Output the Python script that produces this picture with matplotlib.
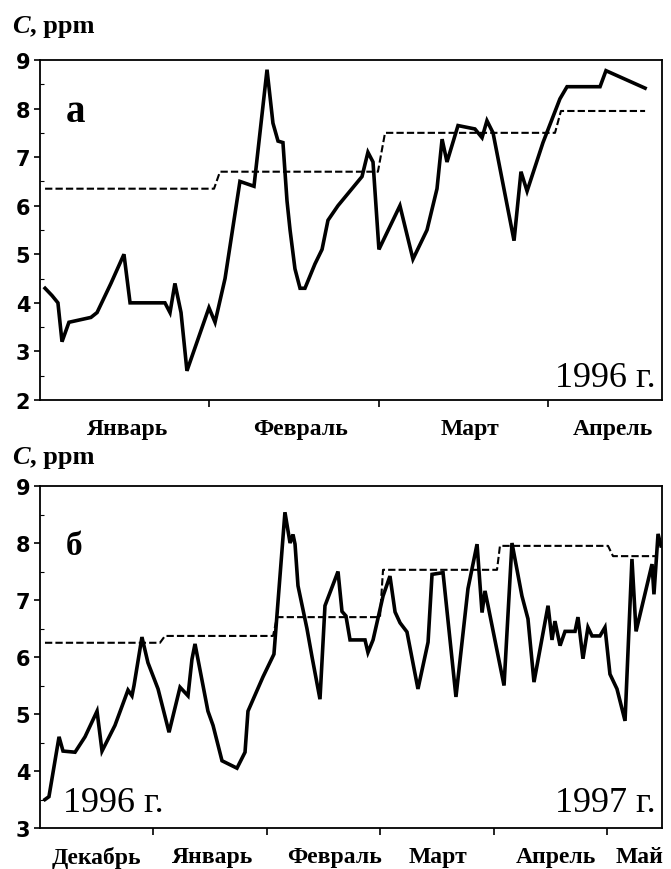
import matplotlib
matplotlib.use("Agg")
import matplotlib.pyplot as plt
from matplotlib.ticker import FixedLocator, MultipleLocator

SERIF = "Liberation Serif"
SANS = "DejaVu Sans"

# x is measured in months from the start of the first month shown
# panel a: 1996, January .. April
a_months = ["Январь", "Февраль", "Март", "Апрель"]
a_label_pos = [0.52, 1.54, 2.54, 3.385]
a_x = [0.030, 0.071, 0.106, 0.130, 0.171, 0.301, 0.337, 0.419, 0.496, 0.532,
       0.738, 0.768, 0.797, 0.833, 0.868, 0.998, 1.034, 1.093, 1.181, 1.264,
       1.341, 1.376, 1.406, 1.435, 1.459, 1.477, 1.506, 1.536, 1.565, 1.624,
       1.666, 1.701, 1.760, 1.902, 1.937, 1.967, 2.002, 2.126, 2.203, 2.286,
       2.345, 2.375, 2.404, 2.469, 2.569, 2.611, 2.640, 2.676, 2.800, 2.841,
       2.877, 2.971, 3.071, 3.113, 3.308, 3.343, 3.574]
a_c = [4.30, 4.15, 4.00, 3.20, 3.60, 3.70, 3.80, 4.40, 5.00, 4.00,
       4.00, 3.80, 4.40, 3.80, 2.60, 3.90, 3.60, 4.50, 6.50, 6.40,
       8.80, 7.70, 7.33, 7.30, 6.10, 5.50, 4.70, 4.30, 4.30, 4.80,
       5.10, 5.70, 6.00, 6.60, 7.10, 6.90, 5.10, 6.00, 4.90, 5.50,
       6.35, 7.37, 6.90, 7.65, 7.58, 7.40, 7.75, 7.50, 5.28, 6.70,
       6.30, 7.30, 8.20, 8.45, 8.45, 8.78, 8.42]
a_mean_x = [0.030, 1.028, 1.063, 1.996, 2.038, 3.042, 3.077, 3.574]
a_mean_c = [6.35, 6.35, 6.70, 6.70, 7.50, 7.50, 7.95, 7.95]

# panel б: December 1996 .. May 1997
b_months = ["Декабрь", "Январь", "Февраль", "Март", "Апрель", "Май"]
b_label_pos = [0.50, 1.52, 2.60, 3.51, 4.55, 5.29]
b_x = [0.044, 0.079, 0.168, 0.203, 0.309, 0.397, 0.503, 0.547, 0.661, 0.776,
       0.811, 0.829, 0.899, 0.952, 1.014, 1.041, 1.138, 1.235, 1.305, 1.340,
       1.367, 1.481, 1.526, 1.605, 1.737, 1.808, 1.834, 1.966, 2.063, 2.160,
       2.205, 2.231, 2.249, 2.275, 2.354, 2.399, 2.469, 2.513, 2.628, 2.663,
       2.698, 2.734, 2.866, 2.892, 2.937, 3.025, 3.086, 3.131, 3.175, 3.236,
       3.333, 3.422, 3.457, 3.554, 3.668, 3.774, 3.854, 3.898, 3.924, 3.951,
       4.092, 4.162, 4.250, 4.303, 4.356, 4.480, 4.515, 4.541, 4.586, 4.630,
       4.718, 4.744, 4.788, 4.832, 4.868, 4.938, 4.982, 5.026, 5.088, 5.159,
       5.220, 5.256, 5.397, 5.414, 5.450, 5.476]
b_c = [3.50, 3.55, 4.60, 4.35, 4.33, 4.60, 5.05, 4.35, 4.80, 5.42,
       5.32, 5.50, 6.35, 5.90, 5.58, 5.44, 4.68, 5.47, 5.32, 5.96,
       6.23, 5.05, 4.80, 4.18, 4.05, 4.33, 5.05, 5.65, 6.05, 8.54,
       8.00, 8.15, 7.98, 7.25, 6.50, 6.00, 5.26, 6.90, 7.50, 6.80,
       6.72, 6.30, 6.30, 6.08, 6.30, 7.07, 7.42, 6.79, 6.60, 6.44,
       5.44, 6.26, 7.45, 7.48, 5.30, 7.20, 7.98, 6.78, 7.16, 6.90,
       5.50, 8.00, 7.07, 6.67, 5.56, 6.90, 6.30, 6.63, 6.20, 6.45,
       6.45, 6.70, 5.97, 6.52, 6.37, 6.37, 6.52, 5.70, 5.44, 4.88,
       7.72, 6.45, 7.63, 7.10, 8.16, 7.95]
b_mean_x = [0.044, 1.058, 1.102, 2.055, 2.090, 2.998, 3.025, 4.030, 4.056,
            5.009, 5.053, 5.423]
b_mean_c = [6.25, 6.25, 6.37, 6.37, 6.70, 6.70, 7.53, 7.53, 7.95, 7.95,
            7.77, 7.77]


def style_axes(ax, xmax, ymin, months, label_pos):
    ax.set_xlim(0, xmax)
    ax.set_ylim(ymin, 9)
    for s in ax.spines.values():
        s.set_linewidth(1.3)
    ax.yaxis.set_major_locator(MultipleLocator(1))
    ax.yaxis.set_minor_locator(MultipleLocator(0.5))
    ax.tick_params(axis="y", which="major", direction="out", length=4,
                   width=1.2, pad=3, labelsize=15)
    ax.tick_params(axis="y", which="minor", direction="in", length=3, width=0.8)
    for lab in ax.get_yticklabels():
        lab.set_fontfamily(SANS)
        lab.set_fontweight("bold")
    ax.xaxis.set_major_locator(FixedLocator(range(1, len(months))))
    ax.xaxis.set_minor_locator(FixedLocator(label_pos))
    ax.set_xticklabels([], minor=False)
    ax.set_xticklabels(months, minor=True, fontfamily=SERIF,
                       fontweight="bold", fontsize=17)
    ax.tick_params(axis="x", which="major", direction="out", length=5, width=1.2)
    ax.tick_params(axis="x", which="minor", length=0, pad=13)


def main():
    fig = plt.figure(figsize=(6.71, 8.70), dpi=100)

    ax1 = fig.add_axes([0.0596, 0.5391, 0.9270, 0.3908])
    ax1.plot(a_mean_x, a_mean_c, color="black", lw=1.5, ls=(0, (3.5, 1.5)))
    ax1.plot(a_x, a_c, color="black", lw=2.6, solid_joinstyle="miter")
    style_axes(ax1, 3.674, 2, a_months, a_label_pos)
    ax1.text(0.042, 0.82, "а", transform=ax1.transAxes, fontfamily=SERIF,
             fontweight="bold", fontsize=28)
    ax1.text(0.99, 0.04, "1996 г.", transform=ax1.transAxes, fontfamily=SERIF,
             fontsize=26, ha="right", va="baseline")

    ax2 = fig.add_axes([0.0596, 0.0471, 0.9270, 0.3931])
    ax2.plot(b_mean_x, b_mean_c, color="black", lw=1.5, ls=(0, (3.5, 1.5)))
    ax2.plot(b_x, b_c, color="black", lw=2.6, solid_joinstyle="miter")
    style_axes(ax2, 5.485, 3, b_months, b_label_pos)
    ax2.text(0.042, 0.80, "б", transform=ax2.transAxes, fontfamily=SERIF,
             fontweight="bold", fontsize=24)
    ax2.text(0.037, 0.05, "1996 г.", transform=ax2.transAxes, fontfamily=SERIF,
             fontsize=26, va="baseline")
    ax2.text(0.99, 0.05, "1997 г.", transform=ax2.transAxes, fontfamily=SERIF,
             fontsize=26, ha="right", va="baseline")

    # axis titles "C, ppm" above each panel
    for y in (1 - 33 / 870, 1 - 464 / 870):
        fig.text(12 / 671, y, "C", fontfamily=SERIF, fontstyle="italic",
                 fontweight="bold", fontsize=19, va="baseline")
        fig.text(30 / 671, y, ", ppm", fontfamily=SERIF, fontweight="bold",
                 fontsize=19, va="baseline")

    fig.savefig("out.png", dpi=100)


if __name__ == "__main__":
    main()
